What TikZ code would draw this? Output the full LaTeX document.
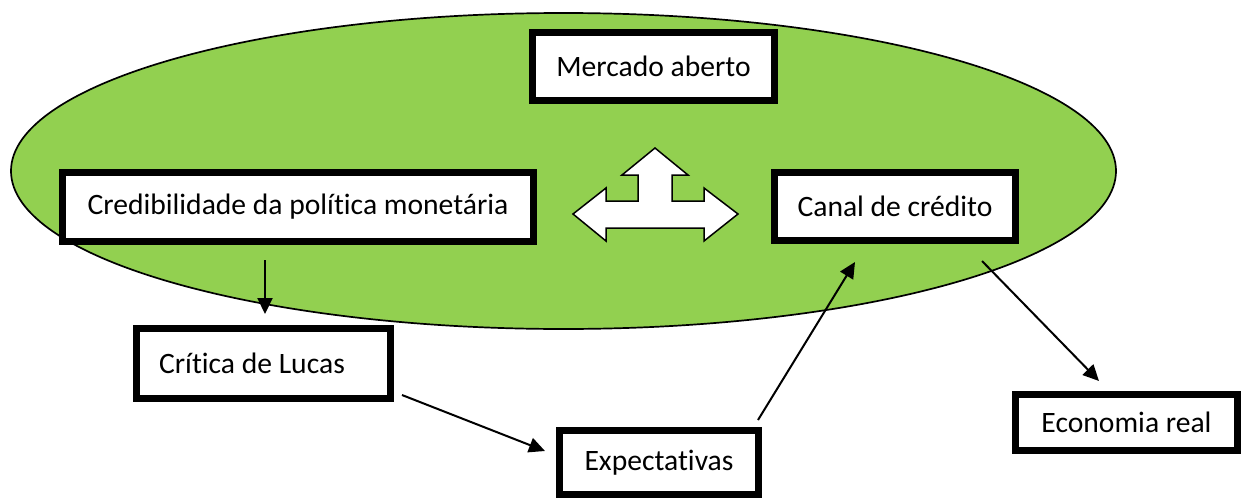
\documentclass[tikz,border=0pt]{standalone}
\usepackage{fontspec}
\setmainfont{Carlito}[Ligatures=NoCommon]
\usetikzlibrary{arrows.meta}
\definecolor{lgreen}{HTML}{92D050}
\tikzset{
  box/.style={draw=black, line width=7.3pt, fill=white, inner sep=0pt, align=center,
    font=\fontsize{29.6}{34}\selectfont},
  arr/.style={line width=2pt, -{Triangle[length=16pt,width=15pt]}},
  x=1pt, y=-1pt
}
\begin{document}
\begin{tikzpicture}
\useasboundingbox (0,0) rectangle (1243,498);
\draw[fill=lgreen, line width=1.7pt] (563.5,171) ellipse [x radius=552.5, y radius=158];

\node[box, minimum width=241.7pt, minimum height=67.7pt] (ma) at (653.5,66.5) {Mercado aberto};
\node[box, minimum width=470.7pt, minimum height=68.7pt] (cred) at (298,207) {Credibilidade da política monetária};
\node[box, minimum width=240.7pt, minimum height=67.7pt] (canal) at (895,206.5) {Canal de crédito};
\node[box, minimum width=253.7pt, minimum height=69.7pt] (lucas) at (263.5,363.5) {Crítica de Lucas\hspace*{23pt}};
\node[box, minimum width=198.7pt, minimum height=63.7pt] (exp) at (659,462.5) {Expectativas};
\node[box, minimum width=221.7pt, minimum height=55.7pt] (eco) at (1126.5,422.5) {Economia real};

\draw[fill=white, line width=1.5pt, line join=miter]
  (573,214) -- (606,188) -- (606,201) -- (638,201) -- (638,175) -- (622,175) -- (655,148)
  -- (688,175) -- (672,175) -- (672,201) -- (704,201) -- (704,188) -- (738,214)
  -- (704,241) -- (704,228) -- (606,228) -- (606,241) -- cycle;

\coordinate (c1s) at (265,260);
\coordinate (c1e) at (265,314);
\coordinate (c2s) at (402,395);
\coordinate (c2e) at (545,451);
\coordinate (c3s) at (758,420);
\coordinate (c3e) at (855,262);
\coordinate (c4s) at (982,261);
\coordinate (c4e) at (1099,381);
\draw[arr] (c1s) -- (c1e);
\draw[arr] (c2s) -- (c2e);
\draw[arr] (c3s) -- (c3e);
\draw[arr] (c4s) -- (c4e);
\end{tikzpicture}
\end{document}
